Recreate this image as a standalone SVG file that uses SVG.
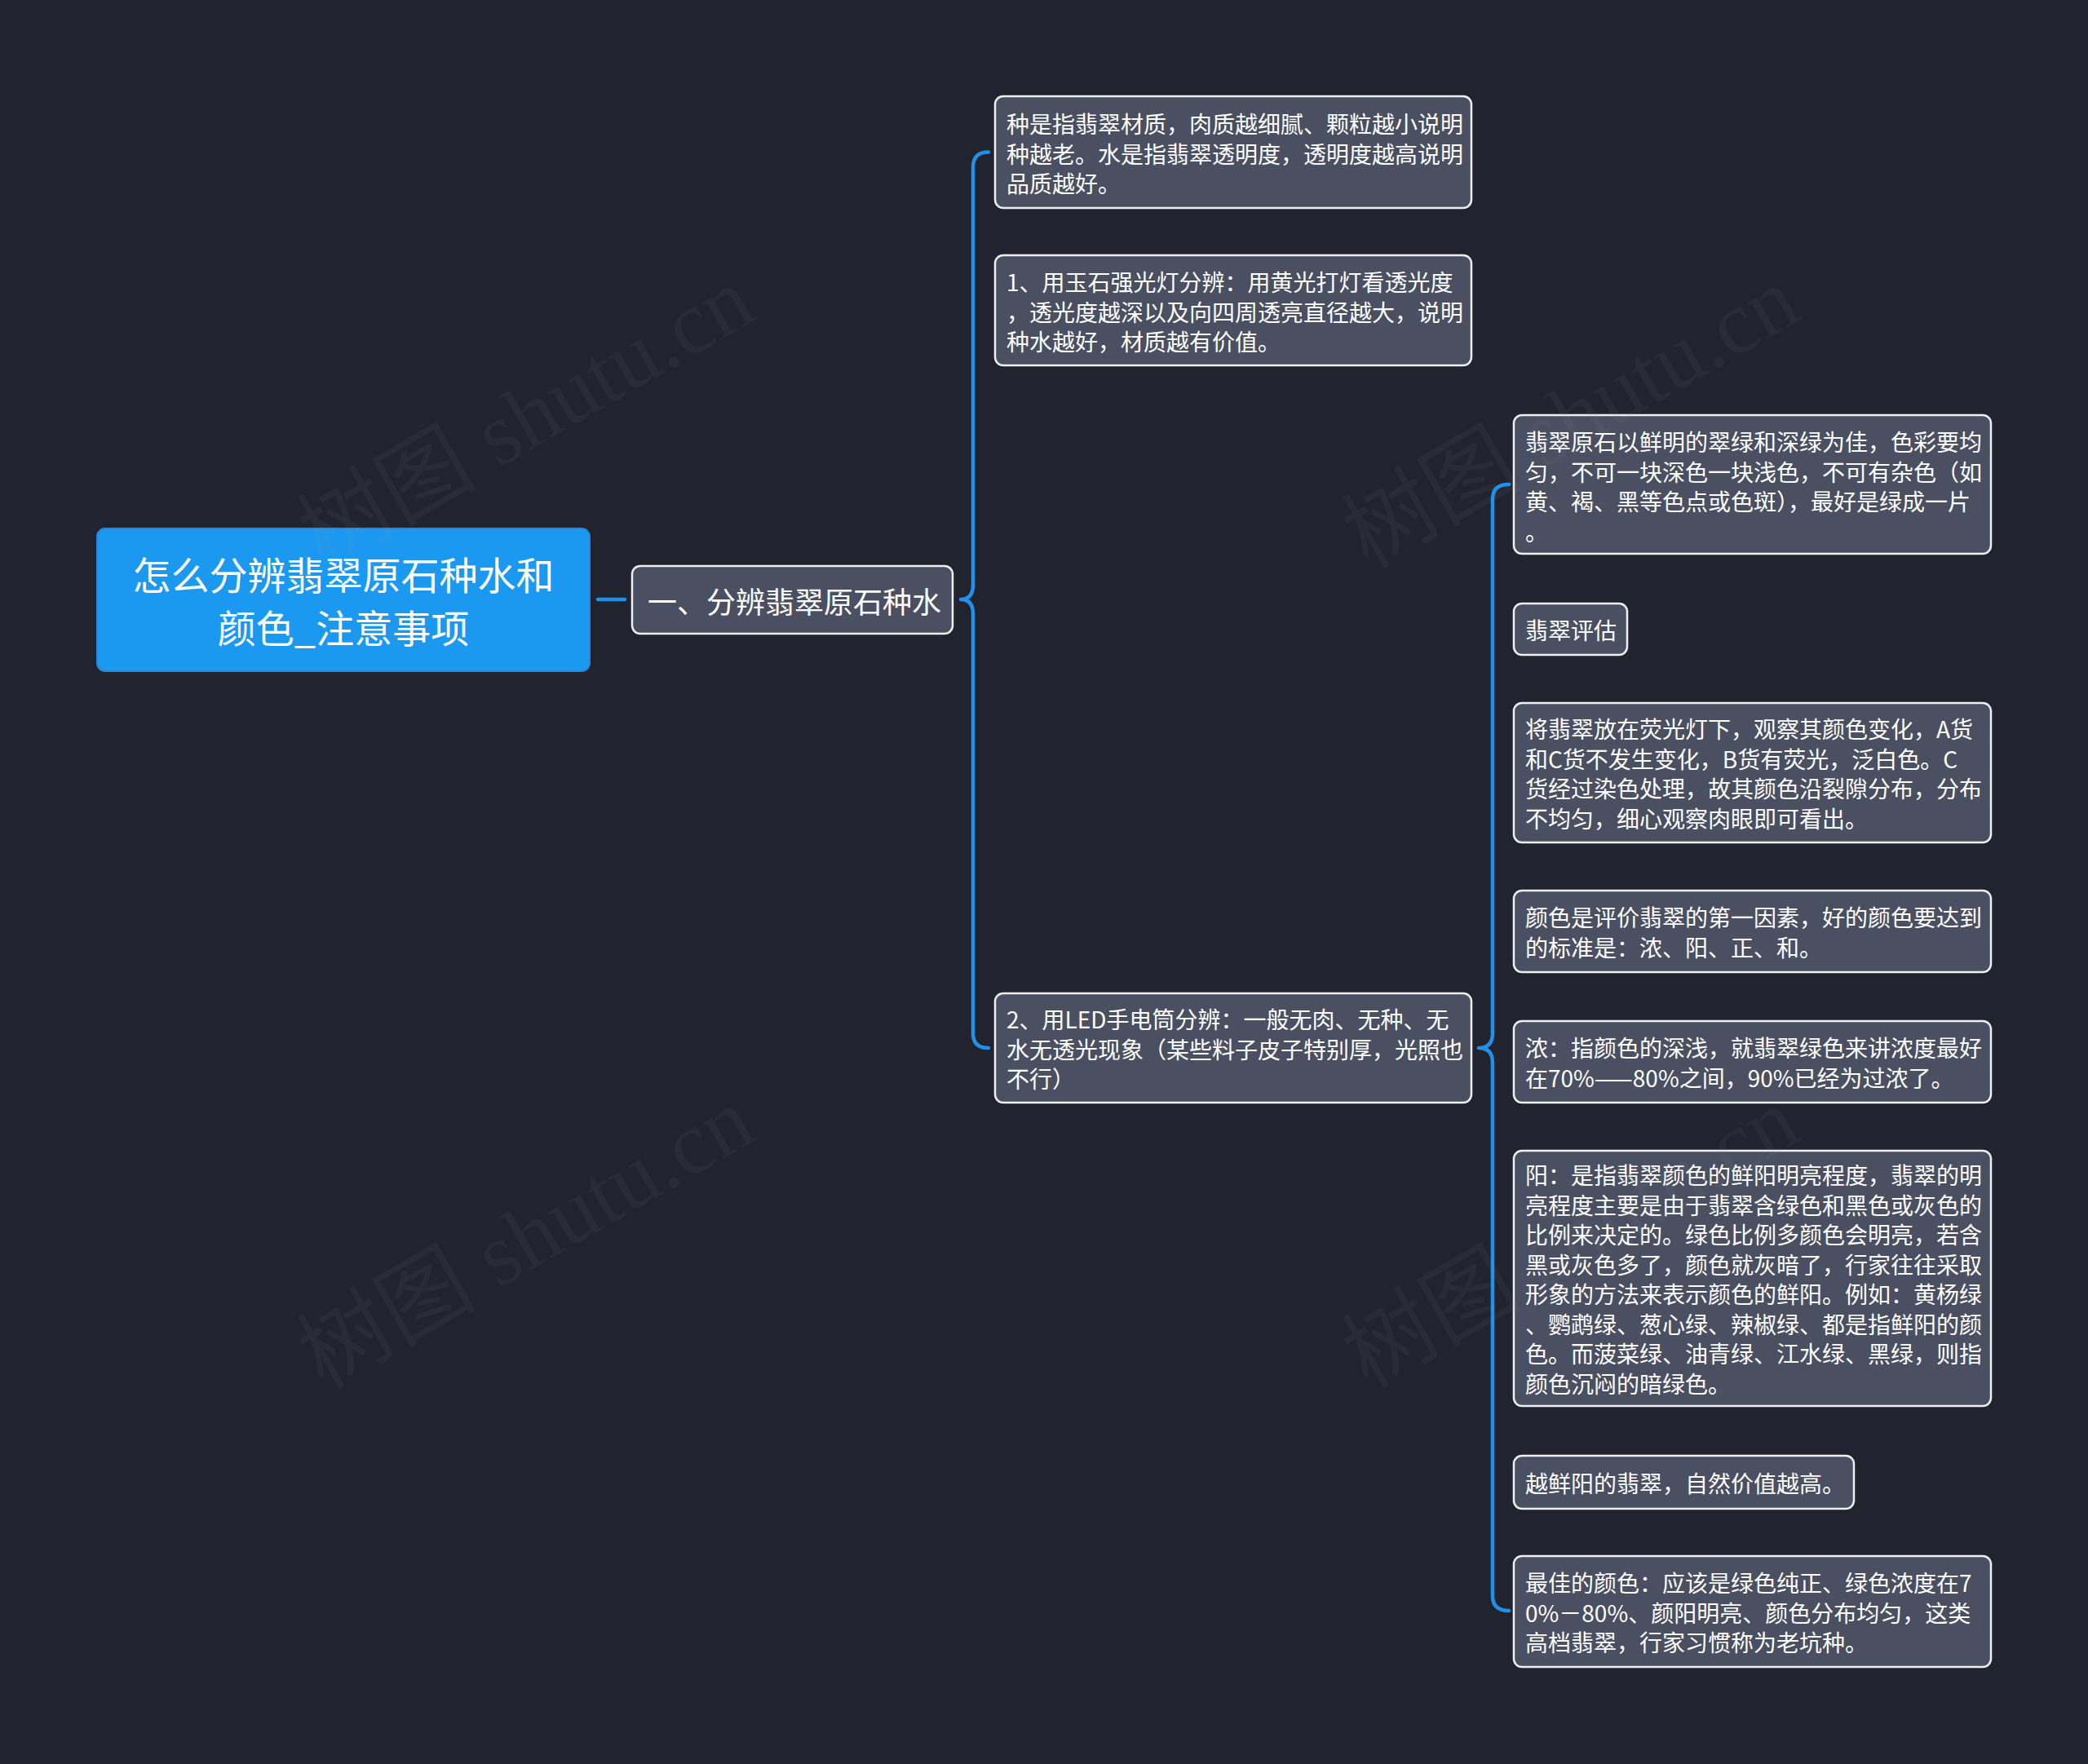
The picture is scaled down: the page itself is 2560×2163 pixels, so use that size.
<svg xmlns="http://www.w3.org/2000/svg" width="2560" height="2163" viewBox="0 0 2560 2163">
<style>
.bg{fill:#21242f}
.box{fill:#4a5061;stroke:#eeeeee;stroke-width:2.5}
.root{fill:#1b98ef;stroke:#2a86d8;stroke-width:2}
.t{font-family:"Noto Sans CJK SC","Noto Sans",sans-serif;font-size:28px;fill:#ffffff;dominant-baseline:central}
.t1{font-family:"Noto Sans CJK SC","Noto Sans",sans-serif;font-size:36px;fill:#ffffff;dominant-baseline:central}
.t0{font-family:"Noto Sans CJK SC","Noto Sans",sans-serif;font-size:47px;fill:#ffffff;dominant-baseline:central;text-anchor:middle}
.conn{fill:none;stroke:#2190e8;stroke-width:4.5;stroke-linecap:round;stroke-linejoin:round}
.wm{font-family:"Liberation Serif","Noto Sans CJK SC",serif;font-size:110px;fill:#9aa0ad;fill-opacity:0.07;text-anchor:middle;dominant-baseline:central}
</style>
<rect class="bg" x="0" y="0" width="2560" height="2163"/>

<g id="connectors">
<path class="conn" d="M733,735 L766,735" stroke-width="6"/>
<path class="conn" d="M1212,186.5 Q1193,186.5 1193,205 L1193,717 Q1193,735 1178,735 Q1193,735 1193,753 L1193,1267 Q1193,1285 1212,1285"/>
<path class="conn" d="M1850,594 Q1830,594 1830,612 L1830,1267 Q1830,1285 1813,1285 Q1830,1285 1830,1303 L1830,1957 Q1830,1975 1850,1975"/>
</g>

<g id="root">
<rect class="root" x="119" y="648" width="604" height="175" rx="10"/>
<text class="t0" x="421" y="702">怎么分辨翡翠原石种水和</text>
<text class="t0" x="421" y="767">颜色_注意事项</text>
</g>

<g id="n1">
<rect class="box" x="775" y="694" width="393" height="83" rx="10"/>
<text class="t1" x="794" y="736">一、分辨翡翠原石种水</text>
</g>

<g id="n1-1">
<rect class="box" x="1220" y="118" width="584" height="137" rx="10"/>
<text class="t" x="1234" y="151">种是指翡翠材质，肉质越细腻、颗粒越小说明</text>
<text class="t" x="1234" y="187.5">种越老。水是指翡翠透明度，透明度越高说明</text>
<text class="t" x="1234" y="224">品质越好。</text>
</g>

<g id="n1-2">
<rect class="box" x="1220" y="313" width="584" height="135" rx="10"/>
<text class="t" x="1234" y="345">1、用玉石强光灯分辨：用黄光打灯看透光度</text>
<text class="t" x="1234" y="381.5">，透光度越深以及向四周透亮直径越大，说明</text>
<text class="t" x="1234" y="418">种水越好，材质越有价值。</text>
</g>

<g id="n1-3">
<rect class="box" x="1220" y="1218" width="584" height="134" rx="10"/>
<text class="t" x="1234" y="1249">2、用LED手电筒分辨：一般无肉、无种、无</text>
<text class="t" x="1234" y="1285.5">水无透光现象（某些料子皮子特别厚，光照也</text>
<text class="t" x="1234" y="1322">不行）</text>
</g>

<g id="r1">
<rect class="box" x="1856" y="509" width="585" height="170" rx="10"/>
<text class="t" x="1870" y="541">翡翠原石以鲜明的翠绿和深绿为佳，色彩要均</text>
<text class="t" x="1870" y="577.5">匀，不可一块深色一块浅色，不可有杂色（如</text>
<text class="t" x="1870" y="614">黄、褐、黑等色点或色斑），最好是绿成一片</text>
<text class="t" x="1870" y="650.5">。</text>
</g>

<g id="r2">
<rect class="box" x="1856" y="740" width="139" height="63" rx="10"/>
<text class="t" x="1870" y="772">翡翠评估</text>
</g>

<g id="r3">
<rect class="box" x="1856" y="862" width="585" height="171" rx="10"/>
<text class="t" x="1870" y="893">将翡翠放在荧光灯下，观察其颜色变化，A货</text>
<text class="t" x="1870" y="929.5">和C货不发生变化，B货有荧光，泛白色。C</text>
<text class="t" x="1870" y="966">货经过染色处理，故其颜色沿裂隙分布，分布</text>
<text class="t" x="1870" y="1002.5">不均匀，细心观察肉眼即可看出。</text>
</g>

<g id="r4">
<rect class="box" x="1856" y="1092" width="585" height="100" rx="10"/>
<text class="t" x="1870" y="1124">颜色是评价翡翠的第一因素，好的颜色要达到</text>
<text class="t" x="1870" y="1160.5">的标准是：浓、阳、正、和。</text>
</g>

<g id="r5">
<rect class="box" x="1856" y="1252" width="585" height="100" rx="10"/>
<text class="t" x="1870" y="1284">浓：指颜色的深浅，就翡翠绿色来讲浓度最好</text>
<text class="t" x="1870" y="1320.5">在70%——80%之间，90%已经为过浓了。</text>
</g>

<g id="r6">
<rect class="box" x="1856" y="1411" width="585" height="313" rx="10"/>
<text class="t" x="1870" y="1440">阳：是指翡翠颜色的鲜阳明亮程度，翡翠的明</text>
<text class="t" x="1870" y="1476.5">亮程度主要是由于翡翠含绿色和黑色或灰色的</text>
<text class="t" x="1870" y="1513">比例来决定的。绿色比例多颜色会明亮，若含</text>
<text class="t" x="1870" y="1549.5">黑或灰色多了，颜色就灰暗了，行家往往采取</text>
<text class="t" x="1870" y="1586">形象的方法来表示颜色的鲜阳。例如：黄杨绿</text>
<text class="t" x="1870" y="1622.5">、鹦鹉绿、葱心绿、辣椒绿、都是指鲜阳的颜</text>
<text class="t" x="1870" y="1659">色。而菠菜绿、油青绿、江水绿、黑绿，则指</text>
<text class="t" x="1870" y="1695.5">颜色沉闷的暗绿色。</text>
</g>

<g id="r7">
<rect class="box" x="1856" y="1785" width="417" height="65" rx="10"/>
<text class="t" x="1870" y="1818">越鲜阳的翡翠，自然价值越高。</text>
</g>

<g id="r8">
<rect class="box" x="1856" y="1908" width="585" height="136" rx="10"/>
<text class="t" x="1870" y="1940">最佳的颜色：应该是绿色纯正、绿色浓度在7</text>
<text class="t" x="1870" y="1976.5">0%－80%、颜阳明亮、颜色分布均匀，这类</text>
<text class="t" x="1870" y="2013">高档翡翠，行家习惯称为老坑种。</text>
</g>

<g id="watermarks">
<text class="wm" transform="translate(645,512) rotate(-30)">树图 shutu.cn</text>
<text class="wm" transform="translate(1926,512) rotate(-30)">树图 shutu.cn</text>
<text class="wm" transform="translate(645,1518) rotate(-30)">树图 shutu.cn</text>
<text class="wm" transform="translate(1926,1518) rotate(-30)">树图 shutu.cn</text>
</g>
</svg>
